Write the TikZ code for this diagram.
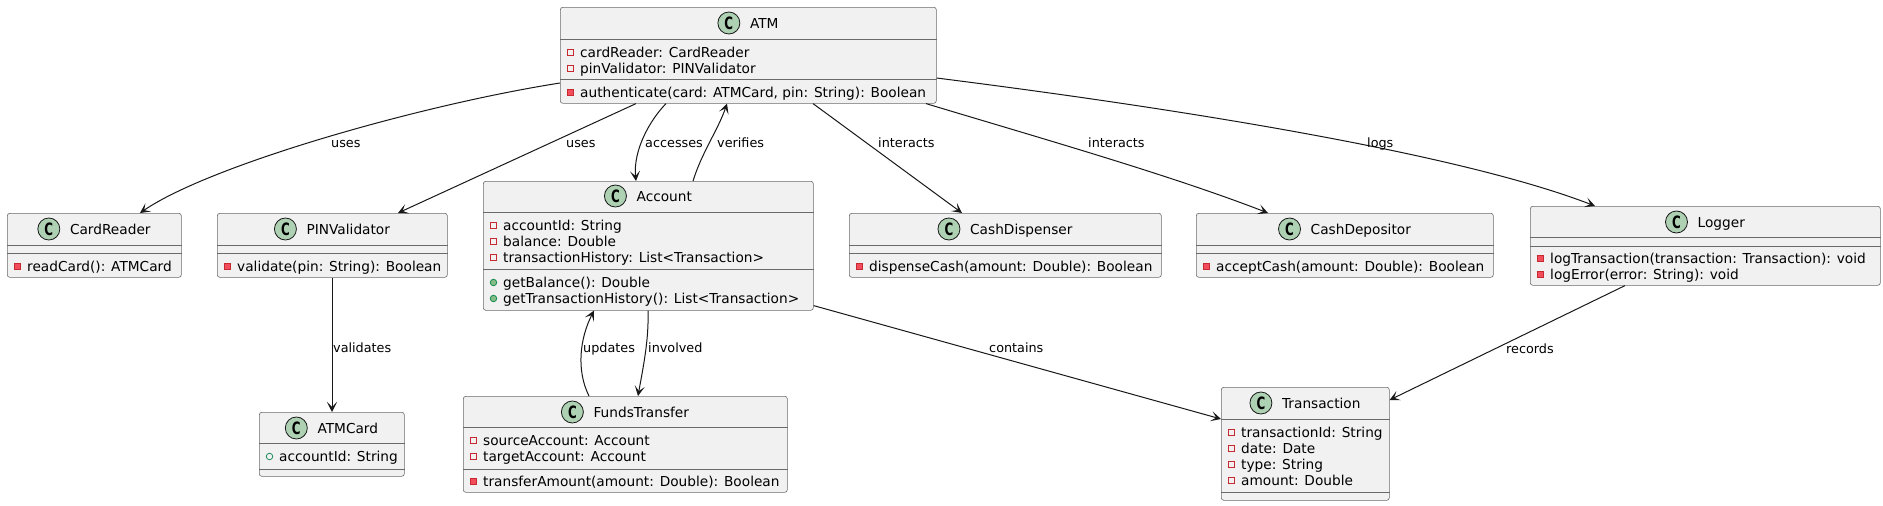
\documentclass[tikz,border=0pt]{standalone}
\usepackage{fontspec}
\setmainfont{DejaVu Sans}
\usetikzlibrary{arrows.meta,calc}
\definecolor{bdr}{HTML}{181818}
\definecolor{boxline}{HTML}{6A6A6A}
\definecolor{boxbg}{HTML}{F1F1F1}
\definecolor{circbg}{HTML}{ADD1B2}
\definecolor{privdraw}{HTML}{C82930}
\definecolor{privfill}{HTML}{F24D5C}
\definecolor{pubdraw}{HTML}{038048}
\definecolor{pubfill}{HTML}{84BE84}
\tikzset{
  classbox/.style={draw=boxline, line width=0.6pt, fill=boxbg, rounded corners=2.5pt, inner sep=0pt, anchor=north west},
  compsep/.style={draw=boxline, line width=0.6pt},
  cname/.style={inner sep=0pt, anchor=base, font=\fontsize{13.7}{16}\selectfont},
  cicon/.style={circle, draw=bdr, line width=0.8pt, fill=circbg, minimum size=22pt, inner sep=0pt, font=\fontsize{17}{17}\selectfont\bfseries},
  member/.style={inner sep=0pt, anchor=base west, font=\fontsize{13.7}{16}\selectfont},
  privfield/.style={rectangle, draw=privdraw, line width=0.7pt, minimum size=6pt, inner sep=0pt},
  privmeth/.style={rectangle, draw=privdraw, line width=0.7pt, fill=privfill, minimum size=6pt, inner sep=0pt},
  pubfield/.style={circle, draw=pubdraw, line width=0.7pt, minimum size=6.5pt, inner sep=0pt},
  pubmeth/.style={circle, draw=pubdraw, line width=0.7pt, fill=pubfill, minimum size=6.5pt, inner sep=0pt},
  conn/.style={draw=bdr, line width=1pt, -{Stealth[length=10pt,width=10pt,inset=5pt]}},
  elabel/.style={inner sep=0pt, anchor=base west, font=\fontsize{12.8}{15}\selectfont},
}
\newcommand\umlhead[4]{%
  \node[cname] (#2) at (#1.center |- 0,#3) {\hspace*{32pt}#4};
  \node[cicon] (#2-c) at ([xshift=11pt,yshift=5pt]#2.base west) {\scalebox{0.7}[1]{C}};
}
\newcommand\umlrow[5]{%
  \node[member] (#1) at (#3+20,#4) {#5};
  \node[#2] (#1-i) at ([xshift=-9.5pt,yshift=4.5pt]#1.base west) {};
}
\begin{document}
\begin{tikzpicture}[x=1pt,y=-1pt]
\useasboundingbox[fill=white] (0,0) rectangle (1883,506);

% ATM
\node[classbox, minimum width=376pt, minimum height=96pt] (atm) at (560,7) {};
\draw[compsep] (atm.west |- 0,39) -- (atm.east |- 0,39);
\draw[compsep] (atm.west |- 0,79) -- (atm.east |- 0,79);
\umlhead{atm}{atmn}{28}{ATM}
\umlrow{atm1}{privfield}{560}{57}{cardReader: CardReader}
\umlrow{atm2}{privfield}{560}{73}{pinValidator: PINValidator}
\umlrow{atm3}{privmeth}{560}{97}{authenticate(card: ATMCard, pin: String): Boolean}

% CardReader
\node[classbox, minimum width=174pt, minimum height=64pt] (cr) at (7,213) {};
\draw[compsep] (cr.west |- 0,245) -- (cr.east |- 0,245);
\draw[compsep] (cr.west |- 0,253) -- (cr.east |- 0,253);
\umlhead{cr}{crn}{234}{CardReader}
\umlrow{cr1}{privmeth}{7}{271}{readCard(): ATMCard}

% PINValidator
\node[classbox, minimum width=230pt, minimum height=64pt] (pv) at (217,213) {};
\draw[compsep] (pv.west |- 0,245) -- (pv.east |- 0,245);
\draw[compsep] (pv.west |- 0,253) -- (pv.east |- 0,253);
\umlhead{pv}{pvn}{234}{PINValidator}
\umlrow{pv1}{privmeth}{217}{271}{validate(pin: String): Boolean}

% Account
\node[classbox, minimum width=330pt, minimum height=129pt] (acc) at (483,181) {};
\draw[compsep] (acc.west |- 0,212) -- (acc.east |- 0,212);
\draw[compsep] (acc.west |- 0,269) -- (acc.east |- 0,269);
\umlhead{acc}{accn}{201}{Account}
\umlrow{acc1}{privfield}{483}{230}{accountId: String}
\umlrow{acc2}{privfield}{483}{246}{balance: Double}
\umlrow{acc3}{privfield}{483}{262}{transactionHistory: List<Transaction>}
\umlrow{acc4}{pubmeth}{483}{287}{getBalance(): Double}
\umlrow{acc5}{pubmeth}{483}{303}{getTransactionHistory(): List<Transaction>}

% CashDispenser
\node[classbox, minimum width=312pt, minimum height=64pt] (cd) at (849,213) {};
\draw[compsep] (cd.west |- 0,245) -- (cd.east |- 0,245);
\draw[compsep] (cd.west |- 0,253) -- (cd.east |- 0,253);
\umlhead{cd}{cdn}{234}{CashDispenser}
\umlrow{cd1}{privmeth}{849}{271}{dispenseCash(amount: Double): Boolean}

% CashDepositor
\node[classbox, minimum width=297pt, minimum height=64pt] (cp) at (1196,213) {};
\draw[compsep] (cp.west |- 0,245) -- (cp.east |- 0,245);
\draw[compsep] (cp.west |- 0,253) -- (cp.east |- 0,253);
\umlhead{cp}{cpn}{234}{CashDepositor}
\umlrow{cp1}{privmeth}{1196}{271}{acceptCash(amount: Double): Boolean}

% Logger
\node[classbox, minimum width=350pt, minimum height=79pt] (lg) at (1530,206) {};
\draw[compsep] (lg.west |- 0,237) -- (lg.east |- 0,237);
\draw[compsep] (lg.west |- 0,246) -- (lg.east |- 0,246);
\umlhead{lg}{lgn}{227}{Logger}
\umlrow{lg1}{privmeth}{1530}{263}{logTransaction(transaction: Transaction): void}
\umlrow{lg2}{privmeth}{1530}{279}{logError(error: String): void}

% ATMCard
\node[classbox, minimum width=145pt, minimum height=64pt] (ac) at (259,412) {};
\draw[compsep] (ac.west |- 0,443) -- (ac.east |- 0,443);
\draw[compsep] (ac.west |- 0,469) -- (ac.east |- 0,469);
\umlhead{ac}{acn}{433}{ATMCard}
\umlrow{ac1}{pubfield}{259}{461}{accountId: String}

% FundsTransfer
\node[classbox, minimum width=324pt, minimum height=96pt] (ft) at (463,396) {};
\draw[compsep] (ft.west |- 0,427) -- (ft.east |- 0,427);
\draw[compsep] (ft.west |- 0,469) -- (ft.east |- 0,469);
\umlhead{ft}{ftn}{417}{FundsTransfer}
\umlrow{ft1}{privfield}{463}{445}{sourceAccount: Account}
\umlrow{ft2}{privfield}{463}{461}{targetAccount: Account}
\umlrow{ft3}{privmeth}{463}{486}{transferAmount(amount: Double): Boolean}

% Transaction
\node[classbox, minimum width=168pt, minimum height=113pt] (tr) at (1221,387) {};
\draw[compsep] (tr.west |- 0,419) -- (tr.east |- 0,419);
\draw[compsep] (tr.west |- 0,492) -- (tr.east |- 0,492);
\umlhead{tr}{trn}{408}{Transaction}
\umlrow{tr1}{privfield}{1221}{437}{transactionId: String}
\umlrow{tr2}{privfield}{1221}{453}{date: Date}
\umlrow{tr3}{privfield}{1221}{469}{type: String}
\umlrow{tr4}{privfield}{1221}{485}{amount: Double}

% Connectors
\draw[conn] ([yshift=-76pt]atm.north west) .. controls (420,105) and (210,165) .. ([xshift=133pt]cr.north west);
\draw[conn] ([xshift=76pt]atm.south west) -- ([xshift=181pt]pv.north west);
\draw[conn] ([xshift=106pt]atm.south west) .. controls (650,120) and (633,150) .. ([xshift=153pt]acc.north west);
\draw[conn] ([xshift=210pt]acc.north west) .. controls (702,152) and (718,130) .. ([xshift=167pt]atm.south west);
\draw[conn] ([xshift=253pt]atm.south west) -- ([xshift=113pt]cd.north west);
\draw[conn] ([xshift=366pt]atm.south west) .. controls (1040,138) and (1170,175) .. ([xshift=72pt]cp.north west);
\draw[conn] ([yshift=-71pt]atm.north east) .. controls (1150,105) and (1450,150) .. ([xshift=65pt]lg.north west);
\draw[conn] ([xshift=115pt]pv.south west) -- ([xshift=73pt]ac.north west);
\draw[conn] ([xshift=126pt]ft.north west) .. controls (576,370) and (580,338) .. ([xshift=111pt]acc.south west);
\draw[conn] ([xshift=165pt]acc.south west) .. controls (649,340) and (643,368) .. ([xshift=175pt]ft.north west);
\draw[conn] ([yshift=5pt]acc.south east) -- ([yshift=-32pt]tr.north west);
\draw[conn] ([xshift=95pt]lg.south west) -- ([yshift=-13pt]tr.north east);

% Labels
\node[elabel] (l1) at (331,147.5) {uses};
\node[elabel] (l2) at (566,147.5) {uses};
\node[elabel] (l3) at (645,147.5) {accesses};
\node[elabel] (l4) at (717,147.5) {verifies};
\node[elabel] (l5) at (878,147.5) {interacts};
\node[elabel] (l6) at (1088,147.5) {interacts};
\node[elabel] (l7) at (1367,147.5) {logs};
\node[elabel] (l8) at (333,352.5) {validates};
\node[elabel] (l9) at (583,352.5) {updates};
\node[elabel] (l10) at (648,352.5) {involved};
\node[elabel] (l11) at (989,352.5) {contains};
\node[elabel] (l12) at (1506,353.5) {records};
\end{tikzpicture}
\end{document}
